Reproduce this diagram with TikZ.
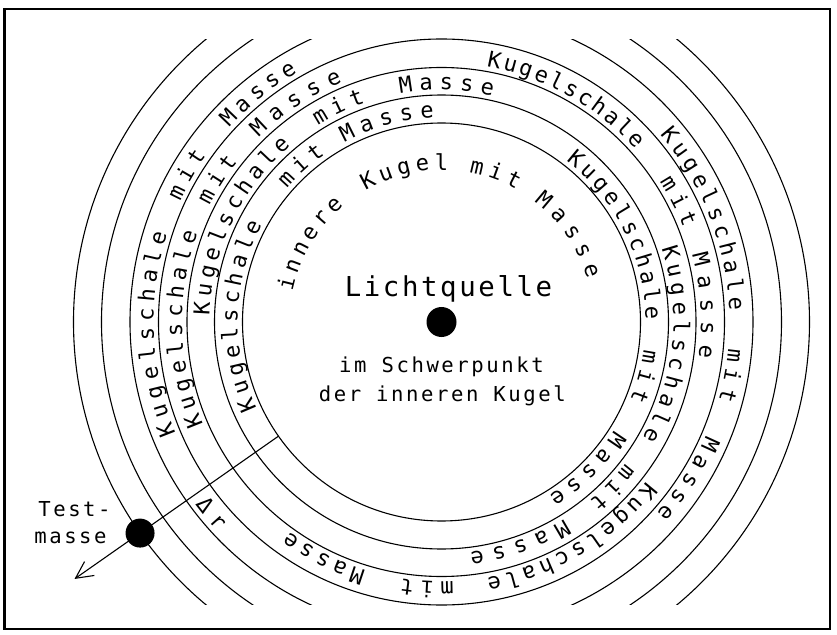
\documentclass[tikz,border=0pt]{standalone}
\usepackage{fontspec}
\usetikzlibrary{decorations.text, arrows.meta}
\newfontfamily\cadfont{DejaVu Sans Mono}[LetterSpace=12.5]
\newfontfamily\cadbig{DejaVu Sans Mono}[LetterSpace=9.5]
\newfontfamily\cadring{DejaVu Sans Mono}
\tikzstyle{shell} = [line width=1.1pt]
\tikzstyle{framebox} = [line width=2.5pt]
\tikzstyle{blackdot} = [
    circle,
    fill=black,
    inner sep=0pt,
    minimum size=30pt
]
\tikzstyle{txt} = [
    font=\cadfont\fontsize{20.6}{26}\selectfont,
    inner sep=0pt,
    anchor=base
]
\tikzstyle{bigtxt} = [
    font=\cadbig\fontsize{27.4}{30}\selectfont,
    inner sep=0pt,
    anchor=base
]
\tikzstyle{arrow} = [line width=1.1pt,-{Straight Barb[length=17pt,width=17pt]}]
\newcommand{\ringword}[4]{%
  \path[decorate, decoration={text along path,
      text={|\cadring\fontsize{22}{22}\selectfont|#4},
      text align={fit to path}}]
    (#2:#1) arc[start angle=#2, end angle=#3, radius=#1];}
\begin{document}
\begin{tikzpicture}[x=1pt, y=1pt]
\useasboundingbox (-441.5,-312) rectangle (395.5,322);
\draw[framebox] (-437,-307) rectangle (388.5,313);

\foreach \r in {199,227,254.5,283}
  \draw[shell] (0,0) circle[radius=\r];
\begin{scope}
  \clip (-441.5,-282) rectangle (395.5,282);
  \foreach \r in {311.5,340,368}
    \draw[shell] (0,0) circle[radius=\r];
\end{scope}

% innere Kugel
\ringword{152}{168.5}{130}{innere}
\ringword{152}{120}{87.5}{Kugel}
\ringword{152}{79.5}{60.5}{mit}
\ringword{152}{52.5}{16.5}{Masse}

% erste Schale
\ringword{204}{205}{151.5}{Kugelschale}
\ringword{204}{139.3}{124.8}{mit}
\ringword{204}{118.4}{92.1}{Masse}
\ringword{204}{52.4}{0.6}{Kugelschale}
\ringword{204}{-7.7}{-22.3}{mit}
\ringword{204}{-32.2}{-58.3}{Masse}

% zweite Schale
\ringword{232}{178.5}{130.5}{Kugelschale}
\ringword{232}{122.2}{109.2}{mit}
\ringword{232}{100.3}{77.3}{Masse}
\ringword{232}{18.5}{-30}{Kugelschale}
\ringword{232}{-37.5}{-50.5}{mit}
\ringword{232}{-58.1}{-83}{Masse}

% dritte Schale
\ringword{259.5}{203.3}{160}{Kugelschale}
\ringword{259.5}{153.4}{141.8}{mit}
\ringword{259.5}{134.8}{112.4}{Masse}
\ringword{259.5}{80}{41.7}{Kugelschale}
\ringword{259.5}{32.8}{21.2}{mit}
\ringword{259.5}{15}{-7.8}{Masse}
\ringword{259.5}{-37.9}{-80}{Kugelschale}
\ringword{259.5}{-87.3}{-98.9}{mit}
\ringword{259.5}{-107}{-126}{Masse}

% vierte Schale
\ringword{288}{202.7}{162.2}{Kugelschale}
\ringword{288}{155.2}{144.8}{mit}
\ringword{288}{137.5}{120}{Masse}
\ringword{288}{40.7}{2.3}{Kugelschale}
\ringword{288}{-5.3}{-15.7}{mit}
\ringword{288}{-23.3}{-41.7}{Masse}
\ringword{306.5}{-143.5}{-137}{Δr}

\node[blackdot] (source) at (0,0) {};
\node[bigtxt] (quelle) at (7,25) {Lichtquelle};
\node[txt] (schwer) at (0,-50) {im Schwerpunkt};
\node[txt] (kugel) at (0.8,-79.7) {der inneren Kugel};
\node[txt] (test) at (-367,-194.7) {Test-};
\node[txt] (masse) at (-371,-221.3) {masse};

\coordinate (rstart) at (215:199);
\coordinate (rtip) at (215:448);
\draw[arrow] (rstart) -- (rtip);
\node[blackdot, minimum size=29pt] (testmass) at (215:368) {};

\end{tikzpicture}
\end{document}
